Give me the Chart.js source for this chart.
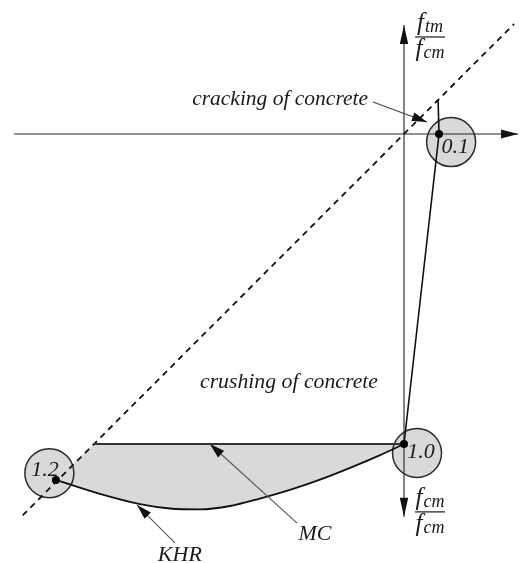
<!DOCTYPE html>
<html><head><meta charset="utf-8">
<script src="https://cdn.jsdelivr.net/npm/chart.js@4.4.1/dist/chart.umd.min.js"></script>
<style>html,body{margin:0;padding:0;background:#fff;}canvas{display:block;}</style>
</head><body>
<canvas id="c" width="523" height="563"></canvas>
<script>
// ---------- data (dimensionless stress ratios) ----------
// KHR failure curve from point 1.2 to point 1.0
const khrX = [-1.123, -0.981, -0.852, -0.755, -0.658, -0.561, -0.465, -0.368, -0.271, -0.174, -0.077, 0.0];
const khrY = [-1.116, -1.161, -1.194, -1.208, -1.211, -1.200, -1.176, -1.148, -1.115, -1.077, -1.036, -1.0];
// MC (horizontal) line
const mcX = [-1.0, 0.0];
const mcY = [-1.0, -1.0];
// upper boundary of shaded zone (envelope part + MC)
const bndX = [-1.123, -1.0, 0.0];
const bndY = [-1.116, -1.0, -1.0];
// loading path 0.1 -> 1.0
const pathX = [0.104, 0.110, 0.113, 0.0];
const pathY = [0.107, 0.107, 0.0, -1.0];
// dashed envelope y = x
const envX = [-1.23, 0.355];
const envY = [-1.23, 0.355];
// axes extents
const axisHX = [-1.258, 0.368];
const axisVY = [-1.235, 0.352];
// labelled points
const pointLabels = ['0.1', '1.0', '1.2'];
const pointX = [0.113, 0.0, -1.123];
const pointY = [0.0, -1.0, -1.116];
// label bubbles around the points
const bubbleX = [0.152, 0.042, -1.144];
const bubbleY = [-0.026, -1.029, -1.094];
const bubbleTextX = [0.165, 0.055, -1.158];
const bubbleTextY = [-0.042, -1.026, -1.084];

const xy = (xs, ys) => xs.map((v, i) => ({x: v, y: ys[i]}));

const INK = '#1a1a22';
const SERIF = '"Liberation Serif", "DejaVu Serif", serif';

function arrowHead(ctx, x1, y1, x2, y2, len, hw, color) {
  const a = Math.atan2(y2 - y1, x2 - x1);
  ctx.save();
  ctx.fillStyle = color;
  ctx.beginPath();
  ctx.moveTo(x2, y2);
  ctx.lineTo(x2 - len * Math.cos(a) + hw * Math.sin(a), y2 - len * Math.sin(a) - hw * Math.cos(a));
  ctx.lineTo(x2 - len * Math.cos(a) - hw * Math.sin(a), y2 - len * Math.sin(a) + hw * Math.cos(a));
  ctx.closePath();
  ctx.fill();
  ctx.restore();
}
function arrow(ctx, x1, y1, x2, y2, color) {
  ctx.save();
  ctx.strokeStyle = color; ctx.lineWidth = 1.1;
  ctx.beginPath(); ctx.moveTo(x1, y1); ctx.lineTo(x2, y2); ctx.stroke();
  ctx.restore();
  arrowHead(ctx, x1, y1, x2, y2, 15, 4.5, '#111');
}
function fitText(ctx, text, cx, cy, width, align) {
  ctx.font = 'italic 20px ' + SERIF;
  const w = ctx.measureText(text).width;
  const size = 20 * width / w;
  ctx.font = 'italic ' + size.toFixed(2) + 'px ' + SERIF;
  ctx.textAlign = align; ctx.textBaseline = 'middle';
  ctx.fillText(text, cx, cy);
}
function fracPart(ctx, cx, baseY, sub) {
  const fF = 'italic 25px ' + SERIF, sF = 'italic 18px ' + SERIF;
  ctx.font = fF; const wf = ctx.measureText('f').width;
  ctx.font = sF; const ws = ctx.measureText(sub).width;
  const left = cx - (wf + ws + 1) / 2;
  ctx.textAlign = 'left'; ctx.textBaseline = 'alphabetic';
  ctx.font = fF; ctx.fillText('f', left, baseY);
  ctx.font = sF; ctx.fillText(sub, left + wf + 1, baseY + 2);
}
function fraction(ctx, cx, barY, top, bottom) {
  ctx.save();
  ctx.fillStyle = INK;
  fracPart(ctx, cx, barY - 7, top);
  fracPart(ctx, cx, barY + 19, bottom);
  ctx.strokeStyle = INK; ctx.lineWidth = 1.2;
  ctx.beginPath(); ctx.moveTo(cx - 15, barY); ctx.lineTo(cx + 15, barY); ctx.stroke();
  ctx.restore();
}

const diagram = {
  id: 'diagram',
  afterDatasetsDraw(chart) {
    const {ctx, scales: {x, y}} = chart;
    const px = v => x.getPixelForValue(v), py = v => y.getPixelForValue(v);
    // axis arrowheads
    arrowHead(ctx, px(axisHX[0]), py(0), px(axisHX[1]), py(0), 17, 4.5, '#111');
    arrowHead(ctx, px(0), py(0), px(0), py(axisVY[1]), 19, 4.2, '#111');
    arrowHead(ctx, px(0), py(0), px(0), py(axisVY[0]), 19, 4.2, '#111');
    // bubble numbers
    ctx.save();
    ctx.fillStyle = INK;
    ctx.font = 'italic 22px ' + SERIF;
    ctx.textAlign = 'center'; ctx.textBaseline = 'middle';
    pointLabels.forEach((t, i) => ctx.fillText(t, px(bubbleTextX[i]), py(bubbleTextY[i])));
    // annotations
    fitText(ctx, 'cracking of concrete', px(-0.116), py(0.113), 176, 'right');
    fitText(ctx, 'crushing of concrete', px(-0.371), py(-0.8), 178, 'center');
    ctx.font = 'italic 22px ' + SERIF;
    ctx.textAlign = 'center'; ctx.textBaseline = 'middle';
    ctx.fillText('MC', px(-0.287), py(-1.290));
    ctx.fillText('KHR', px(-0.723), py(-1.358));
    ctx.restore();
    arrow(ctx, px(-0.100), py(0.103), px(0.074), py(0.039), '#444');
    arrow(ctx, px(-0.345), py(-1.255), px(-0.626), py(-1.0), '#555');
    arrow(ctx, px(-0.739), py(-1.319), px(-0.861), py(-1.197), '#555');
    // axis fraction labels
    fraction(ctx, px(0.084), py(0.313), 'tm', 'cm');
    fraction(ctx, px(0.084), py(-1.219), 'cm', 'cm');
  }
};

const lineDs = (data, extra) => Object.assign({
  data, showLine: true, pointRadius: 0, borderColor: '#1a1a1a', borderWidth: 1.6,
  fill: false, tension: 0
}, extra);

new Chart(document.getElementById('c'), {
  type: 'line',
  data: {
    datasets: [
      // shaded zone between KHR and upper boundary
      lineDs(xy(khrX, khrY), {order: 20, borderWidth: 0, borderColor: 'rgba(0,0,0,0)',
        cubicInterpolationMode: 'monotone', fill: '+1', backgroundColor: '#d9d9d9'}),
      lineDs(xy(bndX, bndY), {order: 19, borderWidth: 0, borderColor: 'rgba(0,0,0,0)'}),
      // bubbles
      {data: xy(bubbleX, bubbleY), showLine: false, order: 15, pointRadius: 24.5,
        pointBackgroundColor: '#d9d9d9', pointBorderColor: '#2a2a2a', pointBorderWidth: 1.5},
      // axes
      lineDs(xy(axisHX, [0, 0]), {order: 10, borderWidth: 1.2, borderColor: '#222'}),
      lineDs(xy([0, 0], axisVY), {order: 10, borderWidth: 1.2, borderColor: '#333'}),
      // envelope
      lineDs(xy(envX, envY), {order: 9, borderWidth: 1.8, borderColor: '#111', borderDash: [6, 5]}),
      // curves
      lineDs(xy(mcX, mcY), {order: 8, borderWidth: 1.8, borderColor: '#333'}),
      lineDs(xy(khrX, khrY), {order: 8, borderWidth: 1.8, borderColor: '#111', cubicInterpolationMode: 'monotone'}),
      lineDs(xy(pathX, pathY), {order: 8, borderWidth: 1.6, borderColor: '#111'}),
      // points
      {data: xy(pointX, pointY), showLine: false, order: 1, pointRadius: 4,
        pointBackgroundColor: '#000', pointBorderWidth: 0}
    ]
  },
  options: {
    responsive: false,
    animation: false,
    devicePixelRatio: 1,
    layout: {padding: 0, autoPadding: false},
    plugins: {legend: {display: false}, tooltip: {enabled: false}},
    scales: {
      x: {type: 'linear', display: false, min: -404 / 310, max: 119 / 310},
      y: {type: 'linear', display: false, min: -429 / 310, max: 134 / 310}
    }
  },
  plugins: [diagram]
});
</script>
</body></html>
